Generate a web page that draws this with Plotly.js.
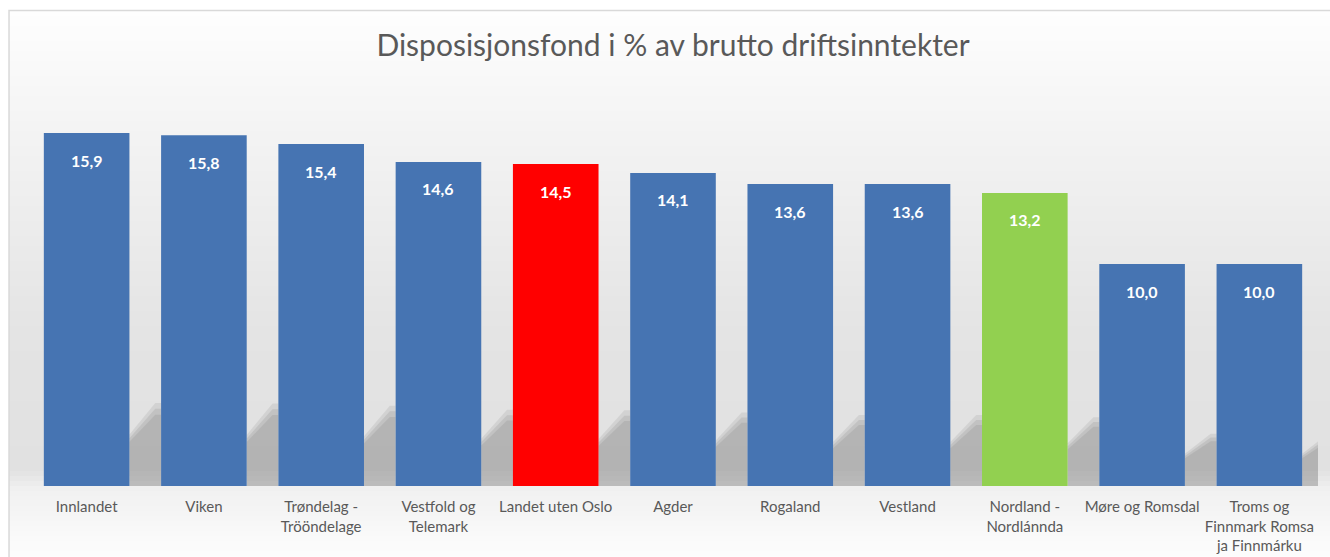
<!DOCTYPE html>
<html>
<head>
<meta charset="utf-8">
<script src="https://cdn.plot.ly/plotly-3.0.1.min.js"></script>
<style>html,body{margin:0;padding:0;background:#fff;}#chart{width:1330px;height:557px;}</style>
</head>
<body>
<div id="chart"></div>
<script>
const categories = ["Innlandet", "Viken", "Trøndelag -<br>Trööndelage", "Vestfold og<br>Telemark", "Landet uten Oslo", "Agder", "Rogaland", "Vestland", "Nordland -<br>Nordlánnda", "Møre og Romsdal", "Troms og<br>Finnmark Romsa<br>ja Finnmárku"];
const values = [15.9, 15.8, 15.4, 14.6, 14.5, 14.1, 13.6, 13.6, 13.2, 10.0, 10.0];
const barColors = ["#4674b2", "#4674b2", "#4674b2", "#4674b2", "#ff0000", "#4674b2", "#4674b2", "#4674b2", "#92d050", "#4674b2", "#4674b2"];
const titleText = "Disposisjonsfond i % av brutto driftsinntekter";

const idx = categories.map((_, i) => i);
const plotTop = 100, plotBottom = 486, plotH = plotBottom - plotTop;
const pyToPaper = py => (plotBottom - py) / plotH;

// background gradient bands (styling)
function grayAt(py) {
  const stops = [[0, 255], [11, 254], [150, 242], [330, 228], [470, 225], [490, 241], [557, 253]];
  for (let k = 1; k < stops.length; k++) {
    if (py <= stops[k][0]) {
      const [a, ga] = stops[k - 1], [b, gb] = stops[k];
      return Math.round(ga + (gb - ga) * (py - a) / (b - a));
    }
  }
  return 253;
}
const shapes = [];
for (let py = 11; py < 557; py += 5) {
  const g = grayAt(py + 2.5);
  shapes.push({type: "rect", xref: "paper", yref: "paper", layer: "below",
    x0: -0.0147, x1: 1.01, y0: pyToPaper(py + 5), y1: pyToPaper(py),
    fillcolor: `rgb(${g},${g},${g})`, line: {width: 0}});
}
// soft shadows in the gaps, derived from values
const half = 0.365;
values.forEach((v, i) => {
  const hs = 0.235 * v;
  const R = i + half;
  const G = Math.min(i + 1 - half, 10.5);
  [[1.0, 0.12], [0.93, 0.14], [0.86, 0.14]].forEach(([f, a]) => {
    const h = hs * f;
    shapes.push({type: "path", xref: "x", yref: "y", layer: "below",
      path: `M ${R},0 L ${R},${h * 0.62} L ${R + 0.22},${h} L ${G},${h} L ${G},0 Z`,
      fillcolor: `rgba(100,100,100,${a})`, line: {width: 0}});
  });
});
// chart border
shapes.push({type: "rect", xref: "paper", yref: "paper", layer: "above",
  x0: -0.0147, x1: 1.02, y0: -0.3, y1: pyToPaper(10.5),
  fillcolor: "rgba(0,0,0,0)", line: {color: "#d9d9d9", width: 1.5}});

const annotations = values.map((v, i) => ({
  x: i, y: v, xref: "x", yref: "y", yanchor: "middle", yshift: -27,
  text: "<b>" + v.toFixed(1).replace(".", ",") + "</b>", showarrow: false,
  font: {family: "Lato, 'Open Sans', sans-serif", size: 16, color: "#ffffff"}
}));

const trace = {
  type: "bar", x: idx, y: values,
  marker: {color: barColors, line: {width: 0}},
  hoverinfo: "none", cliponaxis: false
};

const layout = {
  width: 1330, height: 557,
  margin: {l: 28, r: 12, t: plotTop, b: 557 - plotBottom, pad: 0},
  paper_bgcolor: "#ffffff", plot_bgcolor: "rgba(0,0,0,0)",
  title: {text: titleText, x: 0.5, xanchor: "center", xref: "paper",
    y: 1 - 45 / 557, yanchor: "middle", yref: "container",
    font: {family: "Lato, 'Open Sans', sans-serif", size: 30, color: "#595959"}},
  bargap: 0.27,
  xaxis: {range: [-0.5, 10.5], tickvals: idx, ticktext: categories, showgrid: false,
    zeroline: false, showline: false, ticks: "", fixedrange: true, ticklabelstandoff: 10,
    tickfont: {family: "Lato, 'Open Sans', sans-serif", size: 15, color: "#595959"}},
  yaxis: {range: [0, plotH / 22.2], visible: false, showgrid: false, zeroline: false, fixedrange: true},
  shapes: shapes, annotations: annotations, showlegend: false
};
Plotly.newPlot("chart", [trace], layout, {displayModeBar: false, staticPlot: true});
</script>
</body>
</html>
